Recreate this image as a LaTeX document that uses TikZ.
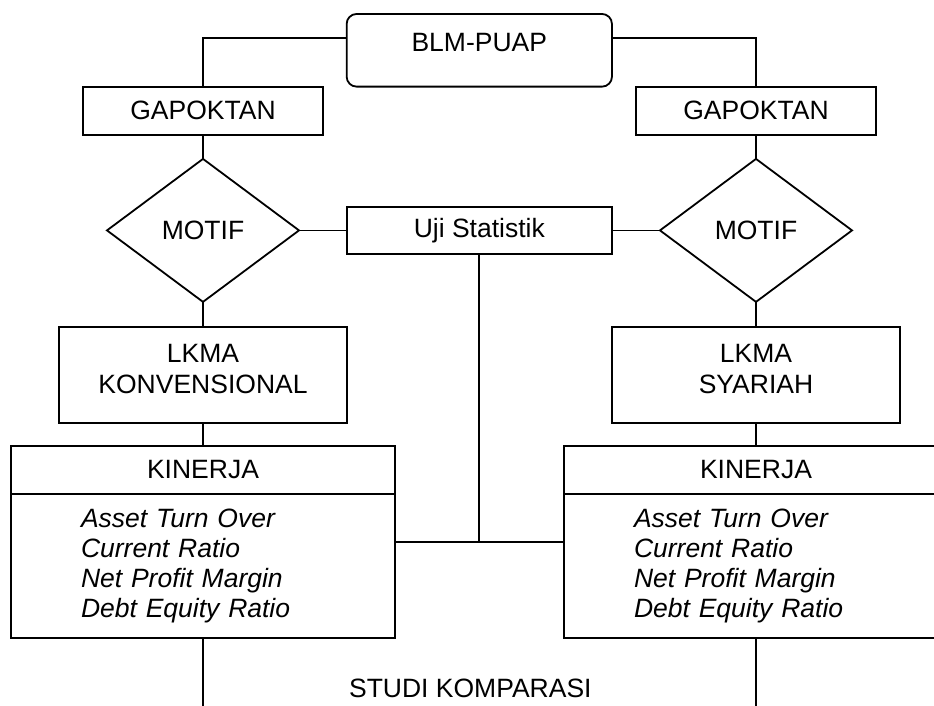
\documentclass[tikz,border=0pt]{standalone}
\usepackage{fontspec}
\setmainfont{Liberation Sans}
\usetikzlibrary{positioning,shapes.geometric}

\begin{document}
\begin{tikzpicture}[x=1pt, y=-1pt, line width=1.8pt,
    every node/.style={font=\fontsize{26.5}{30.5}\selectfont, inner sep=0pt, outer sep=0pt},
    topbox/.style={rectangle, rounded corners=10pt, draw, minimum width=265.3pt, minimum height=72.7pt, text depth=15.6pt},
    gapbox/.style={rectangle, draw, minimum width=240.7pt, minimum height=48pt},
    motbox/.style={diamond, draw, minimum width=192pt, minimum height=143pt},
    ujibox/.style={rectangle, draw, minimum width=265.3pt, minimum height=47.6pt},
    lkmabox/.style={rectangle, draw, align=center, minimum width=288pt, minimum height=96pt, text depth=12pt},
    kinhead/.style={rectangle, draw, minimum width=384pt, minimum height=48pt},
    kinbody/.style={rectangle, draw, minimum width=384pt, minimum height=144.3pt,
      text width=244pt, align=left, font=\fontsize{26.5}{30.2}\selectfont\itshape}
  ]
    \useasboundingbox (0,0) rectangle (934,706);
    \clip (0,0) rectangle (934,706);

    % Top
    \node[topbox] (blm)  at (479.3,50.3) {BLM-PUAP};
    \node[gapbox] (gapL) at (203,110.7)  {GAPOKTAN};
    \node[gapbox] (gapR) at (756,110.7)  {GAPOKTAN};

    % Motif and test
    \node[motbox] (motL) at (203,230.4)   {MOTIF};
    \node[motbox] (motR) at (756,230.4)   {MOTIF};
    \node[ujibox] (uji)  at (479.3,230.4) {Uji Statistik};

    % Institutions
    \node[lkmabox] (lkmaL) at (203,374.7) {LKMA\\KONVENSIONAL};
    \node[lkmabox] (lkmaR) at (756,374.7) {LKMA\\SYARIAH};

    % Performance boxes
    \node[kinhead] (kinL) at (203,470) {KINERJA};
    \node[kinbody, below=0pt of kinL] (kinLbody)
      {Asset Turn Over\\Current Ratio\\Net Profit Margin\\Debt Equity Ratio};
    \node[kinhead] (kinR) at (756,470) {KINERJA};
    \node[kinbody, below=0pt of kinR] (kinRbody)
      {Asset Turn Over\\Current Ratio\\Net Profit Margin\\Debt Equity Ratio};

    \node (studi) at (470.3,688) {STUDI KOMPARASI};

    \coordinate (join) at (479.3,541.7);
    \coordinate (endL) at (203,712);
    \coordinate (endR) at (756,712);

    % Connectors
    \draw (gapL.north) |- ([yshift=12pt]blm.west);
    \draw (gapR.north) |- ([yshift=12pt]blm.east);
    \draw (gapL.south) -- (motL.north);
    \draw (gapR.south) -- (motR.north);
    \draw (motL.east) -- (uji.west);
    \draw (uji.east) -- (motR.west);
    \draw (motL.south) -- (lkmaL.north);
    \draw (motR.south) -- (lkmaR.north);
    \draw (lkmaL.south) -- (kinL.north);
    \draw (lkmaR.south) -- (kinR.north);
    \draw (uji.south) -- (join);
    \draw (kinLbody.east |- join) -- (kinRbody.west |- join);
    \draw (kinLbody.south) -- (endL);
    \draw (kinRbody.south) -- (endR);
  \end{tikzpicture}
\end{document}
